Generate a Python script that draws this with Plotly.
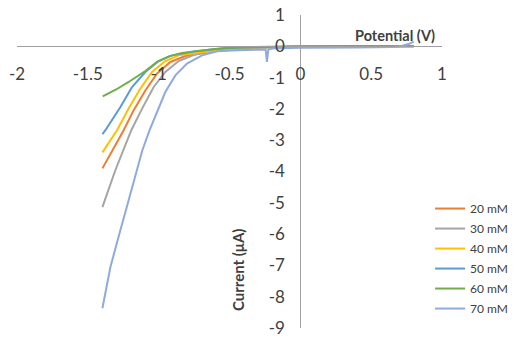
import plotly.graph_objects as go

# ---- data ----
series_names = ["20 mM", "30 mM", "40 mM", "50 mM", "60 mM", "70 mM"]
series_colors = ["#ED7D31", "#A5A5A5", "#FFC000", "#5B9BD5", "#70AD47", "#8FAADC"]

x_20 = [-1.397, -1.31, -1.247, -1.176, -1.094, -1.011, -0.917, -0.812, -0.670, -0.55, -0.40, -0.20, 0.0, 0.40, 0.80]
y_20 = [-3.90, -3.20, -2.68, -2.04, -1.41, -0.87, -0.50, -0.31, -0.21, -0.12, -0.06, -0.02, -0.01, 0.0, 0.0]

x_30 = [-1.397, -1.306, -1.193, -1.117, -1.035, -0.953, -0.859, -0.741, -0.62, -0.50, -0.35, -0.15, 0.0, 0.40, 0.80]
y_30 = [-5.14, -3.96, -2.68, -1.99, -1.30, -0.82, -0.47, -0.26, -0.15, -0.09, -0.05, -0.02, -0.01, 0.0, 0.0]

x_40 = [-1.397, -1.294, -1.212, -1.129, -1.047, -0.953, -0.859, -0.694, -0.55, -0.40, -0.20, 0.0, 0.40, 0.80]
y_40 = [-3.39, -2.68, -1.99, -1.35, -0.82, -0.47, -0.29, -0.18, -0.10, -0.05, -0.02, -0.01, 0.0, 0.0]

x_50 = [-1.397, -1.376, -1.270, -1.188, -1.094, -1.000, -0.905, -0.741, -0.60, -0.45, -0.20, 0.0, 0.40, 0.80]
y_50 = [-2.81, -2.68, -1.94, -1.30, -0.82, -0.47, -0.29, -0.16, -0.09, -0.05, -0.02, -0.01, 0.0, 0.0]

x_60 = [-1.395, -1.30, -1.212, -1.094, -1.011, -0.929, -0.835, -0.670, -0.55, -0.42, -0.20, 0.0, 0.40, 0.80]
y_60 = [-1.60, -1.38, -1.14, -0.79, -0.50, -0.32, -0.21, -0.11, -0.06, -0.03, -0.01, 0.0, 0.0, 0.01]

x_70 = [-1.397, -1.341, -1.284, -1.214, -1.115, -1.064, -1.011, -0.953, -0.882, -0.800, -0.694,
        -0.586, -0.445, -0.261, -0.245, -0.236, -0.226, -0.20, 0.0, 0.40, 0.65, 0.72, 0.77, 0.80]
y_70 = [-8.37, -7.06, -6.10, -4.92, -3.32, -2.68, -2.10, -1.46, -0.93, -0.55, -0.29,
        -0.16, -0.13, -0.10, -0.10, -0.50, -0.10, -0.07, -0.05, -0.04, -0.02, 0.02, 0.08, 0.15]

x_tick_vals = [-2, -1.5, -1, -0.5, 0, 0.5, 1]
x_tick_text = ["-2", "-1.5", "-1", "-0.5", "0", "0.5", "1"]
y_tick_vals = [1, 0, -1, -2, -3, -4, -5, -6, -7, -8, -9]
y_tick_text = ["1", "0", "-1", "-2", "-3", "-4", "-5", "-6", "-7", "-8", "-9"]

x_title = "Potential (V)"
y_title = "Current (μA)"

xs = [x_20, x_30, x_40, x_50, x_60, x_70]
ys = [y_20, y_30, y_40, y_50, y_60, y_70]

FONT = "Lato"
TXT = "#404040"
AX = "#A0A0A0"

fig = go.Figure()
for name, color, xv, yv in zip(series_names, series_colors, xs, ys):
    fig.add_trace(go.Scatter(x=xv, y=yv, mode="lines", name=name, legendgroup=name,
                             line=dict(color=color, width=2)))

fig.update_layout(
    width=516, height=341,
    margin=dict(l=17, r=74, t=15, b=13, autoexpand=False),
    paper_bgcolor="white", plot_bgcolor="white",
    font=dict(family=FONT, size=17, color=TXT),
    showlegend=True,
    legend=dict(x=0.972, y=0.428, xanchor="left", yanchor="top",
                tracegroupgap=1,
                font=dict(family=FONT, size=12, color=TXT),
                bgcolor="rgba(0,0,0,0)", borderwidth=0),
    xaxis=dict(range=[-2, 1], anchor="free", position=0.9, automargin=False,
               showline=True, linecolor=AX, linewidth=1,
               showgrid=False, zeroline=False, ticks="",
               tickvals=x_tick_vals, ticktext=x_tick_text,
               ticklabelstandoff=12, ticklabeloverflow="allow",
               tickfont=dict(family=FONT, size=17, color=TXT)),
    yaxis=dict(range=[-9, 1], anchor="free", position=2/3, automargin=False,
               showline=True, linecolor=AX, linewidth=1,
               showgrid=False, zeroline=False, ticks="",
               tickvals=y_tick_vals, ticktext=y_tick_text,
               ticklabelstandoff=12, ticklabeloverflow="allow",
               tickfont=dict(family=FONT, size=17, color=TXT)),
)

fig.add_annotation(text="<b>" + x_title + "</b>", xref="x", yref="y",
                   x=0.67, y=0.35, showarrow=False,
                   font=dict(family=FONT, size=14.5, color=TXT))
fig.add_annotation(text="<b>" + y_title + "</b>", xref="x", yref="y",
                   x=-0.44, y=-7.15, showarrow=False, textangle=-90,
                   font=dict(family=FONT, size=15, color=TXT))

fig.write_html("out.html", config={"displayModeBar": False},
               post_script="document.body.style.margin='0px';")
